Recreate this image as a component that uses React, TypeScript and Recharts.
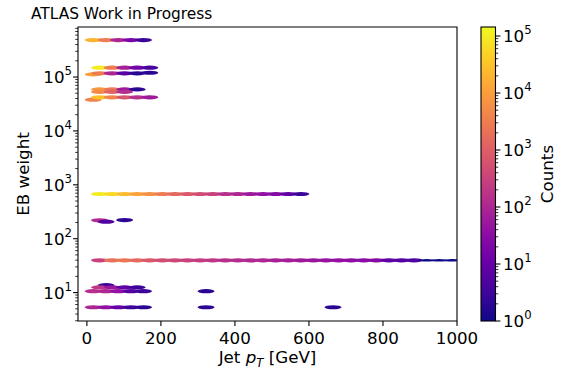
import React from "react";
import { ReferenceArea, Scatter, ScatterChart, XAxis, YAxis } from "recharts";

// ---- data ----
const binWidth = 34; // GeV per pT bin

// EB weight of each row of bins
const rowWeights = [
  4.86e5, 1.49e5, 1.12e5, 1.17e5, 1.2e5, 5.9e4, 5.3e4, 3.8e4, 4.2e4, 675, 219, 207, 222, 39.7,
  13.7, 12.5, 10.6, 10.6, 5.34, 5.34, 5.34,
];
// pT where each row's first bin starts
const rowStarts = [0, 17, 0, 17, 153, 17, 17, 0, 17, 17, 17, 35, 85, 17, 35, 17, 0, 305, 0, 305, 648];
// counts per bin along each row
const rowCounts = [
  [20000, 3000, 100, 20, 3],
  [100000, 3000, 80, 15, 4],
  [10000],
  [3000, 100, 6, 2],
  [2],
  [8000, 2500, 60, 2],
  [5000, 1200, 120],
  [4000],
  [30000, 4000, 700, 150, 60],
  [100000, 60000, 25000, 12000, 6000, 3000, 1500, 800, 500, 300, 150, 100, 60, 40, 25, 8, 3],
  [120],
  [5],
  [2],
  [
    300, 2000, 2500, 1500, 800, 500, 400, 300, 250, 200, 150, 130, 110, 100, 80, 70, 60, 50, 45, 40,
    35, 30, 25, 8, 6, 5, 1, 1, 1,
  ],
  [3],
  [200, 50, 8, 3],
  [150, 100, 40, 6, 3],
  [2],
  [100, 40, 10, 3, 2],
  [2],
  [2],
];

const xDomain = [-24, 1000];
const yDomain = [2.97, 8.48e5];
const countDomain = [1, 1.44e5];
const xTicks = [0, 200, 400, 600, 800, 1000];
const yMajorTicks = [10, 100, 1e3, 1e4, 1e5];
const countMajorTicks = [1, 10, 100, 1e3, 1e4, 1e5];

// ---- layout ----
const W = 569;
const H = 378;
const PLOT = { left: 78, top: 27, right: 457, bottom: 321 };
const CBAR = { left: 481, right: 495.5 };
const FONT = "DejaVu Sans";
const FS = 16.7;
const SUP = 11.7;

const PLASMA = [
  "#0d0887", "#41049d", "#6a00a8", "#8f0da4", "#b12a90", "#cc4778",
  "#e16462", "#f2844b", "#fca636", "#fcce25", "#f0f921",
];

function plasma(t: number) {
  const s = Math.max(0, Math.min(1, t)) * 10;
  const i = Math.min(9, Math.floor(s));
  const f = s - i;
  const a = PLASMA[i];
  const b = PLASMA[i + 1];
  const ch = (h: string, o: number) => parseInt(h.slice(o, o + 2), 16);
  const mix = (o: number) => Math.round(ch(a, o) + (ch(b, o) - ch(a, o)) * f);
  return `rgb(${mix(1)},${mix(3)},${mix(5)})`;
}

const countColor = (c: number) => plasma(Math.log10(c) / Math.log10(countDomain[1]));

function logTicks(lo: number, hi: number) {
  const out: number[] = [];
  for (let d = 1; d <= 1e6; d *= 10) {
    for (let m = 1; m <= 9; m++) {
      const v = m * d;
      if (v >= lo && v <= hi) out.push(v);
    }
  }
  return out;
}

const yTicks = logTicks(yDomain[0], yDomain[1]);
const countTicks = logTicks(countDomain[0], countDomain[1]);

const points = rowWeights.flatMap((w, r) =>
  rowCounts[r].map((c, k) => ({ pt: rowStarts[r] + (k + 0.5) * binWidth, w, c }))
);

const pxPerGeV = (PLOT.right - PLOT.left) / (xDomain[1] - xDomain[0]);

function Bin(props: any) {
  const { cx, cy, payload } = props;
  if (cx == null || cy == null) return <g />;
  const thin = payload.c <= 1;
  return (
    <ellipse
      cx={cx}
      cy={cy}
      rx={(binWidth * pxPerGeV) / 2 + 2.2}
      ry={thin ? 1.2 : 2.1}
      fill={countColor(payload.c)}
    />
  );
}

function Pow10({ x, y, value, anchor }: { x: number; y: number; value: number; anchor: "start" | "end" }) {
  const exp = Math.round(Math.log10(value));
  return (
    <text x={x} y={y} textAnchor={anchor} fontFamily={FONT} fontSize={FS} fill="#000">
      <tspan>10</tspan>
      <tspan fontSize={SUP} dy={-8}>
        {exp}
      </tspan>
    </text>
  );
}

function XTick(props: any) {
  const { x, y, payload } = props;
  return (
    <g>
      <line x1={x} x2={x} y1={y} y2={y + 4.9} stroke="#000" strokeWidth={1.1} />
      <text x={x} y={y + 22.5} textAnchor="middle" fontFamily={FONT} fontSize={FS} fill="#000">
        {payload.value}
      </text>
    </g>
  );
}

function YTick(props: any) {
  const { x, y, payload } = props;
  const major = yMajorTicks.includes(payload.value);
  return (
    <g>
      <line x1={x - (major ? 4.9 : 2.8)} x2={x} y1={y} y2={y} stroke="#000" strokeWidth={major ? 1.1 : 0.8} />
      {major && <Pow10 x={x - 6} y={y + 6} value={payload.value} anchor="end" />}
    </g>
  );
}

function CountTick(props: any) {
  const { x, y, payload } = props;
  const major = countMajorTicks.includes(payload.value);
  return (
    <g>
      <line x1={x} x2={x + (major ? 4.9 : 2.8)} y1={y} y2={y} stroke="#000" strokeWidth={major ? 1.1 : 0.8} />
      {major && <Pow10 x={x + 7.5} y={y + 6} value={payload.value} anchor="start" />}
    </g>
  );
}

function ColorBarRect(props: any) {
  const { x, y, width, height } = props;
  return (
    <g>
      <defs>
        <linearGradient id="plasmaGrad" x1="0" y1="1" x2="0" y2="0">
          {PLASMA.map((c, i) => (
            <stop key={i} offset={i / 10} stopColor={c} />
          ))}
        </linearGradient>
      </defs>
      <rect x={x} y={y} width={width} height={height} fill="url(#plasmaGrad)" stroke="#000" strokeWidth={1.1} />
    </g>
  );
}

export default function App() {
  const midY = (PLOT.top + PLOT.bottom) / 2;
  return (
    <div style={{ position: "fixed", left: 0, top: 0, width: W, height: H, background: "#fff" }}>
      <div style={{ position: "absolute", left: 0, top: 0 }}>
        <ScatterChart width={W} height={H} margin={{ top: PLOT.top, right: W - PLOT.right, bottom: 0, left: 0 }}>
          <XAxis
            type="number"
            dataKey="pt"
            domain={xDomain}
            ticks={xTicks}
            interval={0}
            allowDataOverflow
            axisLine={false}
            tickLine={false}
            tickSize={0}
            tickMargin={0}
            height={H - PLOT.bottom}
            tick={<XTick />}
            label={{
              content: () => (
                <text
                  x={(PLOT.left + PLOT.right) / 2}
                  y={363}
                  textAnchor="middle"
                  fontFamily={FONT}
                  fontSize={FS}
                  fill="#000"
                >
                  <tspan>Jet </tspan>
                  <tspan fontStyle="italic">p</tspan>
                  <tspan fontStyle="italic" fontSize={SUP} dy={3.5}>
                    T
                  </tspan>
                  <tspan dy={-3.5}> [GeV]</tspan>
                </text>
              ),
            }}
          />
          <YAxis
            type="number"
            dataKey="w"
            scale="log"
            domain={yDomain}
            ticks={yTicks}
            interval={0}
            allowDataOverflow
            axisLine={false}
            tickLine={false}
            tickSize={0}
            tickMargin={0}
            width={PLOT.left}
            tick={<YTick />}
            label={{
              content: () => (
                <text
                  x={29}
                  y={midY}
                  textAnchor="middle"
                  fontFamily={FONT}
                  fontSize={FS}
                  fill="#000"
                  transform={`rotate(-90, 29, ${midY})`}
                >
                  EB weight
                </text>
              ),
            }}
          />
          <Scatter data={points} shape={<Bin />} isAnimationActive={false} />
          <ReferenceArea
            x1={xDomain[0]}
            x2={xDomain[1]}
            y1={yDomain[0]}
            y2={yDomain[1]}
            fill="none"
            fillOpacity={0}
            stroke="#000"
            strokeWidth={1.1}
            ifOverflow="visible"
          />
        </ScatterChart>
      </div>
      <div style={{ position: "absolute", left: 0, top: 0 }}>
        <ScatterChart width={W} height={H} margin={{ top: PLOT.top, right: 0, bottom: H - PLOT.bottom, left: CBAR.left }}>
          <XAxis type="number" dataKey="x" domain={[0, 1]} hide />
          <YAxis
            yAxisId={0}
            orientation="right"
            type="number"
            dataKey="c"
            scale="log"
            domain={countDomain}
            ticks={countTicks}
            interval={0}
            allowDataOverflow
            axisLine={false}
            tickLine={false}
            tickSize={0}
            tickMargin={0}
            width={W - CBAR.right}
            tick={<CountTick />}
            label={{
              content: () => (
                <text
                  x={553}
                  y={midY}
                  textAnchor="middle"
                  fontFamily={FONT}
                  fontSize={FS}
                  fill="#000"
                  transform={`rotate(-90, 553, ${midY})`}
                >
                  Counts
                </text>
              ),
            }}
          />
          <ReferenceArea
            x1={0}
            x2={1}
            y1={countDomain[0]}
            y2={countDomain[1]}
            ifOverflow="visible"
            shape={<ColorBarRect />}
          />
          <Scatter data={[{ x: 0.5, c: 10 }]} shape={() => <g />} isAnimationActive={false} />
        </ScatterChart>
      </div>
      <svg width={W} height={H} style={{ position: "absolute", left: 0, top: 0, pointerEvents: "none" }}>
        <text x={31} y={19} fontFamily={FONT} fontSize={15.4} fill="#000">
          ATLAS Work in Progress
        </text>
      </svg>
    </div>
  );
}
